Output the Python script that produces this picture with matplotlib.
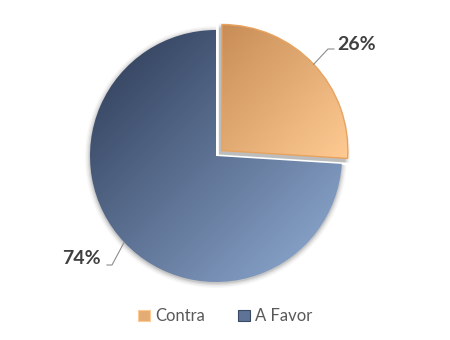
import numpy as np
import matplotlib
matplotlib.use("Agg")
import matplotlib.pyplot as plt
from matplotlib.patches import Patch, Wedge
from matplotlib.colors import to_rgb

categories = ["Contra", "A Favor"]
values = [26, 74]
dark_cols = ["#C88D57", "#2A3853"]
light_cols = ["#FFCB93", "#92AED6"]
edge_cols = ["#E8A35E", "none"]

plt.rcParams['font.family'] = ['Lato', 'DejaVu Sans']

fig = plt.figure(figsize=(4.5, 3.4), dpi=100)
ax = fig.add_axes([0, 0, 1, 1])

cx, cy, R = 216, 184, 126
explode = [8, 0]

wedges, _ = ax.pie(values, startangle=90, counterclock=False, explode=explode,
                   center=(cx, cy), radius=R, frame=True,
                   wedgeprops=dict(linewidth=0))
ax.set_xlim(0, 450)
ax.set_ylim(0, 340)
ax.set_aspect('equal')
ax.axis('off')

def gradient(dark, light, n=256):
    d = np.array(to_rgb(dark)); l = np.array(to_rgb(light))
    u = np.linspace(0, 1, n)[None, :]
    v = np.linspace(0, 1, n)[:, None]
    t = (u + (1 - v)) / 2
    return d[None, None, :] + t[..., None] * (l - d)[None, None, :]

# soft shadows
for i, w in enumerate(wedges):
    c = w.center; r = w.r
    off = (-3, -4) if i == 0 else (0, -1)
    steps = [(5, 0.04), (3.5, 0.06), (2, 0.08), (0.8, 0.10)] if i == 0 else \
            [(5, 0.03), (3.5, 0.05), (2, 0.07), (0.8, 0.09)]
    for dr, a in steps:
        sh = Wedge((c[0] + off[0], c[1] + off[1]), r + dr,
                   w.theta1, w.theta2, facecolor='black', alpha=a, linewidth=0,
                   zorder=0.5 + 2 * i)
        ax.add_patch(sh)

for i, w in enumerate(wedges):
    w.set_zorder(2 + 2 * i)
    c = w.center; r = w.r
    th = np.radians(np.linspace(w.theta1, w.theta2, 200))
    xs = np.concatenate([[c[0]], c[0] + r * np.cos(th)])
    ys = np.concatenate([[c[1]], c[1] + r * np.sin(th)])
    img = gradient(dark_cols[i], light_cols[i])
    im = ax.imshow(img, extent=(xs.min(), xs.max(), ys.min(), ys.max()),
                   origin='lower', zorder=1.5 + 2 * i, interpolation='bilinear')
    im.set_clip_path(w)
    w.set_facecolor('none')
    w.set_edgecolor(edge_cols[i])
    w.set_linewidth(1.0 if edge_cols[i] != 'none' else 0)

# orange wedge above the blue one and its shadow
wedges[0].set_zorder(6)
for im in ax.images[:1]:
    im.set_zorder(5.5)
for p in ax.patches:
    if isinstance(p, Wedge) and p not in wedges and abs(p.theta1 - wedges[0].theta1) < 1e-6:
        p.set_zorder(5)

ax.set_xlim(0, 450)
ax.set_ylim(0, 340)

# labels with leader lines
label_pos = [(357, 296), (81, 82)]
for i, w in enumerate(wedges):
    mid = np.radians((w.theta1 + w.theta2) / 2)
    c = w.center; r = w.r
    px, py = c[0] + r * np.cos(mid), c[1] + r * np.sin(mid)
    tx, ty = label_pos[i]
    if i == 0:
        ax.plot([px, 328, 334], [py, 291, 291], color='#8C8C8C', lw=0.8, zorder=7)
    else:
        ax.plot([px, 112, 107], [py, 75, 75], color='#8C8C8C', lw=0.8, zorder=7)
    ax.text(tx, ty, f"{values[i]}%", ha='center', va='center', fontsize=14,
            fontweight='bold', color='#404040', zorder=8)

handles = [Patch(facecolor=(np.array(to_rgb(dark_cols[i])) + np.array(to_rgb(light_cols[i]))) / 2,
                 edgecolor=light_cols[i] if i == 0 else '#3A4A66', linewidth=0.8)
           for i in range(2)]
fig.legend(handles, categories, loc='center', bbox_to_anchor=(0.5, 0.07), ncol=2,
           frameon=False, fontsize=12, handlelength=0.7, handleheight=0.7,
           handletextpad=0.3, columnspacing=2.0, labelcolor='#595959')

fig.savefig('out.png', dpi=100)
